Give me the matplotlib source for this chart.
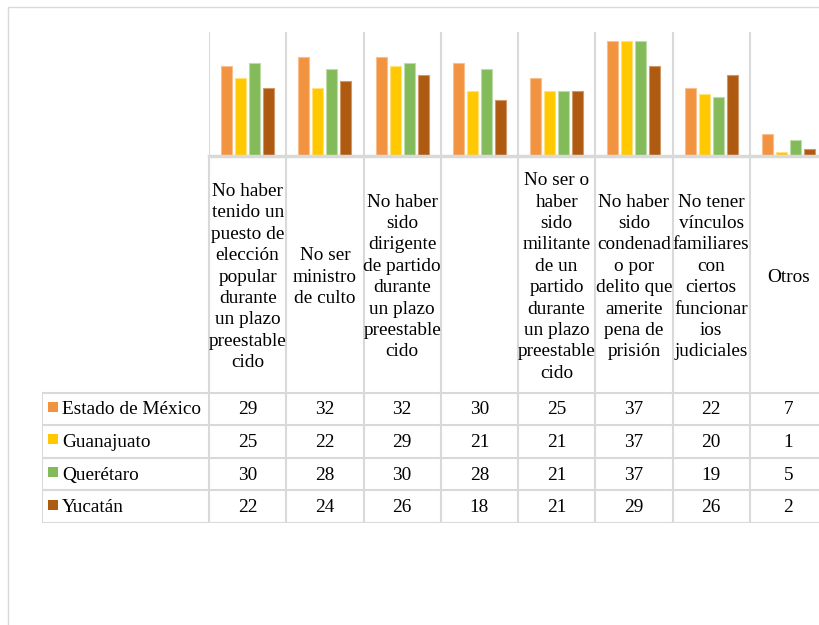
import matplotlib.pyplot as plt
from matplotlib.patches import Rectangle

# Requisitos y estados
categories = [
    "No haber\ntenido un\npuesto de\nelección\npopular\ndurante\nun plazo\npreestable\ncido",
    "No ser\nministro\nde culto",
    "No haber\nsido\ndirigente\nde partido\ndurante\nun plazo\npreestable\ncido",
    "",
    "No ser o\nhaber\nsido\nmilitante\nde un\npartido\ndurante\nun plazo\npreestable\ncido",
    "No haber\nsido\ncondenad\no por\ndelito que\namerite\npena de\nprisión",
    "No tener\nvínculos\nfamiliares\ncon\nciertos\nfuncionar\nios\njudiciales",
    "Otros",
]
states = ["Estado de México", "Guanajuato", "Querétaro", "Yucatán"]
edomex = [29, 32, 32, 30, 25, 37, 22, 7]
guanajuato = [25, 22, 29, 21, 21, 37, 20, 1]
queretaro = [30, 28, 30, 28, 21, 37, 19, 5]
yucatan = [22, 24, 26, 18, 21, 29, 26, 2]
series = [edomex, guanajuato, queretaro, yucatan]

colors = ["#F29340", "#FFC800", "#83BA5A", "#AE5A10"]
edges = ["#F8C090", "#FFE27A", "#BEDCA8", "#D09868"]
grid = "#D9D9D9"
serif = "Liberation Serif"
fs = 13.9

W, H = 819, 625
fig = plt.figure(figsize=(W / 100, H / 100), dpi=100)

# outer chart frame
fig.add_artist(Rectangle((8 / W, -0.1), 1.2, (H - 7) / H + 0.1,
                         transform=fig.transFigure, fill=False,
                         edgecolor=grid, linewidth=1))

n = len(categories)
x_left, x_right = 209, 827
y_top, y_base, y_bottom = 32, 155.5, 523
leg_left = 42

# bar area
ax = fig.add_axes([x_left / W, 1 - y_base / H,
                   (x_right - x_left) / W, (y_base - y_top) / H])
step = 0.181
width = 0.142
for i, vals in enumerate(series):
    xs = [c + 0.5 + (i - 1.5) * step for c in range(n)]
    ax.bar(xs, vals, width=width, color=colors[i], edgecolor=edges[i],
           linewidth=0.8, zorder=3)
ax.set_xlim(0, n)
ax.set_ylim(0, 40)
for c in range(n + 1):
    ax.axvline(c, color=grid, linewidth=1.5, zorder=1)
ax.axhline(0, color=grid, linewidth=2.5, zorder=4, clip_on=False)
ax.axis("off")

# data table below the bars
leg_w = (x_right - x_left) / n
leg_units = (x_left - leg_left) / leg_w
header_h = 237
row_h = (y_bottom - y_base - header_h) / len(states)

tb = fig.add_axes([leg_left / W, 1 - y_bottom / H,
                   (x_right - leg_left) / W, (y_bottom - y_base) / H])
tb.set_xlim(-leg_units, n)
tb.set_ylim(y_bottom - y_base, 0)
tb.axis("off")

line_kw = dict(color=grid, linewidth=1.5)
for c in range(n + 1):
    tb.plot([c, c], [0, y_bottom - y_base], **line_kw)
tb.plot([-leg_units, -leg_units], [header_h, y_bottom - y_base], **line_kw)
for r in range(len(states) + 1):
    y = header_h + r * row_h
    tb.plot([-leg_units, n], [y, y], **line_kw)

for c, label in enumerate(categories):
    tb.text(c + 0.5, header_h / 2 + 3, label, ha="center", va="center",
            multialignment="center", fontsize=fs, family=serif,
            linespacing=1.34)

for r, (name, vals) in enumerate(zip(states, series)):
    yc = header_h + (r + 0.5) * row_h
    sq = 10 / leg_w
    tb.add_patch(Rectangle((-leg_units + 6 / leg_w, yc - 7), sq, 10,
                           facecolor=colors[r], edgecolor="none"))
    tb.text(-leg_units + 20 / leg_w, yc + 1, name, ha="left", va="center",
            fontsize=fs, family=serif)
    for c, v in enumerate(vals):
        tb.text(c + 0.5, yc + 1, str(v), ha="center", va="center",
                fontsize=fs, family=serif)

fig.savefig("out.png", dpi=100)
